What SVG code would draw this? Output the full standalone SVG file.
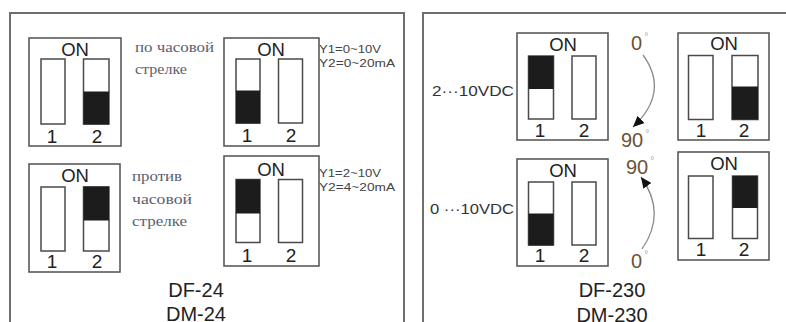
<svg xmlns="http://www.w3.org/2000/svg" width="786" height="322" viewBox="0 0 786 322">
<style>
.panel{fill:none;stroke:#6e6e6e;stroke-width:2}
.box{fill:#fff;stroke:#5a5a5a;stroke-width:1.6}
.slot{fill:#fff;stroke:#4a4a4a;stroke-width:1.5}
.knob{fill:#1c1c1c;stroke:#1c1c1c;stroke-width:1}
.on{font-family:"Liberation Sans",Arial,sans-serif;font-size:18.5px;fill:#222;text-anchor:middle}
.num{font-family:"Liberation Sans",Arial,sans-serif;font-size:19px;fill:#222;text-anchor:middle}
.ru{font-family:"Liberation Serif","Times New Roman",serif;font-size:14px;fill:#5a6070}
.yv{font-family:"Liberation Sans",Arial,sans-serif;font-size:11px;fill:#444}
.vdc{font-family:"Liberation Sans",Arial,sans-serif;font-size:15px;fill:#333}
.deg{font-family:"Liberation Sans",Arial,sans-serif;font-size:20px;fill:#6b5238}
.dg{font-size:10px;fill:#aaaaaa}
.model{font-family:"Liberation Sans",Arial,sans-serif;font-size:20px;fill:#222;text-anchor:middle}
.arc{fill:none;stroke:#8a8a8a;stroke-width:1.3}
</style>
<defs>
<marker id="ah" markerUnits="userSpaceOnUse" markerWidth="12" markerHeight="10" refX="11" refY="5" orient="auto">
<path d="M0,0 L11,5 L0,10 z" fill="#111"/>
</marker>
</defs>
<rect width="786" height="322" fill="#fff"/>
<rect class="panel" x="10" y="13" width="394" height="330"/>
<rect class="panel" x="423" y="13" width="380" height="330"/>

<g id="sw-a">
<rect class="box" x="29" y="38" width="92" height="108"/>
<text class="on" x="75" y="56">ON</text>
<rect class="slot" x="41" y="59" width="24" height="65"/>
<rect class="slot" x="83.5" y="59" width="25.5" height="65"/>
<rect class="knob" x="84" y="92" width="24.5" height="32"/>
<text class="num" x="52" y="143">1</text>
<text class="num" x="97" y="143">2</text>
</g>
<g id="txt-a">
<text class="ru" x="135" y="52" textLength="79" lengthAdjust="spacingAndGlyphs">по часовой</text>
<text class="ru" x="135" y="74" textLength="52" lengthAdjust="spacingAndGlyphs">стрелке</text>
</g>

<g id="sw-b">
<rect class="box" x="224" y="38" width="95" height="108"/>
<text class="on" x="271" y="56">ON</text>
<rect class="slot" x="236" y="59" width="24" height="64"/>
<rect class="slot" x="278.5" y="59" width="24" height="64"/>
<rect class="knob" x="236.5" y="91" width="23" height="32"/>
<text class="num" x="247" y="142">1</text>
<text class="num" x="291" y="142">2</text>
</g>
<g id="txt-b">
<text class="yv" x="319" y="53" textLength="62" lengthAdjust="spacingAndGlyphs">Y1=0~10V</text>
<text class="yv" x="319" y="67" textLength="76" lengthAdjust="spacingAndGlyphs">Y2=0~20mA</text>
</g>

<g id="sw-c">
<rect class="box" x="29" y="164" width="91" height="108"/>
<text class="on" x="75" y="182">ON</text>
<rect class="slot" x="41" y="187" width="24" height="64"/>
<rect class="slot" x="83.5" y="187" width="25.5" height="64"/>
<rect class="knob" x="84" y="187" width="24.5" height="33"/>
<text class="num" x="52" y="268">1</text>
<text class="num" x="97" y="268">2</text>
</g>
<g id="txt-c">
<text class="ru" x="132" y="181" textLength="50" lengthAdjust="spacingAndGlyphs">против</text>
<text class="ru" x="132" y="204" textLength="60" lengthAdjust="spacingAndGlyphs">часовой</text>
<text class="ru" x="132" y="226" textLength="55" lengthAdjust="spacingAndGlyphs">стрелке</text>
</g>

<g id="sw-d">
<rect class="box" x="224" y="156" width="95" height="110"/>
<text class="on" x="271" y="176">ON</text>
<rect class="slot" x="236" y="179.5" width="24" height="63"/>
<rect class="slot" x="278.5" y="179.5" width="24" height="63"/>
<rect class="knob" x="236.5" y="180" width="23" height="33"/>
<text class="num" x="247" y="262">1</text>
<text class="num" x="291" y="262">2</text>
</g>
<g id="txt-d">
<text class="yv" x="319" y="177" textLength="62" lengthAdjust="spacingAndGlyphs">Y1=2~10V</text>
<text class="yv" x="319" y="191" textLength="76" lengthAdjust="spacingAndGlyphs">Y2=4~20mA</text>
</g>

<g id="model-left">
<text class="model" x="196" y="297">DF-24</text>
<text class="model" x="196" y="321">DM-24</text>
</g>

<g id="sw-e">
<rect class="box" x="517" y="33" width="91" height="107"/>
<text class="on" x="563" y="51">ON</text>
<rect class="slot" x="528.5" y="56" width="25" height="63"/>
<rect class="slot" x="572" y="56" width="24" height="63"/>
<rect class="knob" x="529" y="56.5" width="24" height="32"/>
<text class="num" x="540" y="137">1</text>
<text class="num" x="584" y="137">2</text>
</g>
<text id="lbl-e" class="vdc" x="432" y="96" textLength="82" lengthAdjust="spacingAndGlyphs">2···10VDC</text>

<g id="sw-f">
<rect class="box" x="678" y="33" width="91" height="107"/>
<text class="on" x="724" y="50">ON</text>
<rect class="slot" x="688.5" y="55.5" width="24.5" height="64"/>
<rect class="slot" x="732" y="55.5" width="26" height="64"/>
<rect class="knob" x="732.5" y="87" width="25" height="32"/>
<text class="num" x="701" y="137">1</text>
<text class="num" x="744" y="137">2</text>
</g>

<g id="sw-g">
<rect class="box" x="517" y="159" width="91" height="107"/>
<text class="on" x="563" y="177">ON</text>
<rect class="slot" x="528.5" y="182" width="25" height="63"/>
<rect class="slot" x="572" y="182" width="24" height="63"/>
<rect class="knob" x="529" y="214" width="24" height="31"/>
<text class="num" x="540" y="262">1</text>
<text class="num" x="584" y="262">2</text>
</g>
<text id="lbl-g" class="vdc" x="430" y="214" textLength="84" lengthAdjust="spacingAndGlyphs">0 ···10VDC</text>

<g id="sw-h">
<rect class="box" x="678" y="152" width="91" height="108"/>
<text class="on" x="724" y="170">ON</text>
<rect class="slot" x="688.5" y="176" width="24.5" height="62.5"/>
<rect class="slot" x="732.5" y="176" width="25" height="62.5"/>
<rect class="knob" x="733" y="176.5" width="24" height="31"/>
<text class="num" x="701" y="256">1</text>
<text class="num" x="744" y="256">2</text>
</g>

<g id="angles">
<text class="deg" x="631" y="50">0<tspan class="dg" dx="2" dy="-10">°</tspan></text>
<text class="deg" x="621" y="147">90<tspan class="dg" dx="2" dy="-10">°</tspan></text>
<text class="deg" x="626" y="174">90<tspan class="dg" dx="2" dy="-10">°</tspan></text>
<text class="deg" x="631" y="268">0<tspan class="dg" dx="2" dy="-10">°</tspan></text>
</g>

<g id="connectors">
<path class="arc" d="M643,55 Q670,92 633,127" marker-end="url(#ah)"/>
<path class="arc" d="M642,249 Q667,213 641,177" marker-end="url(#ah)"/>
</g>

<g id="model-right">
<text class="model" x="612" y="297">DF-230</text>
<text class="model" x="612" y="322">DM-230</text>
</g>
</svg>
